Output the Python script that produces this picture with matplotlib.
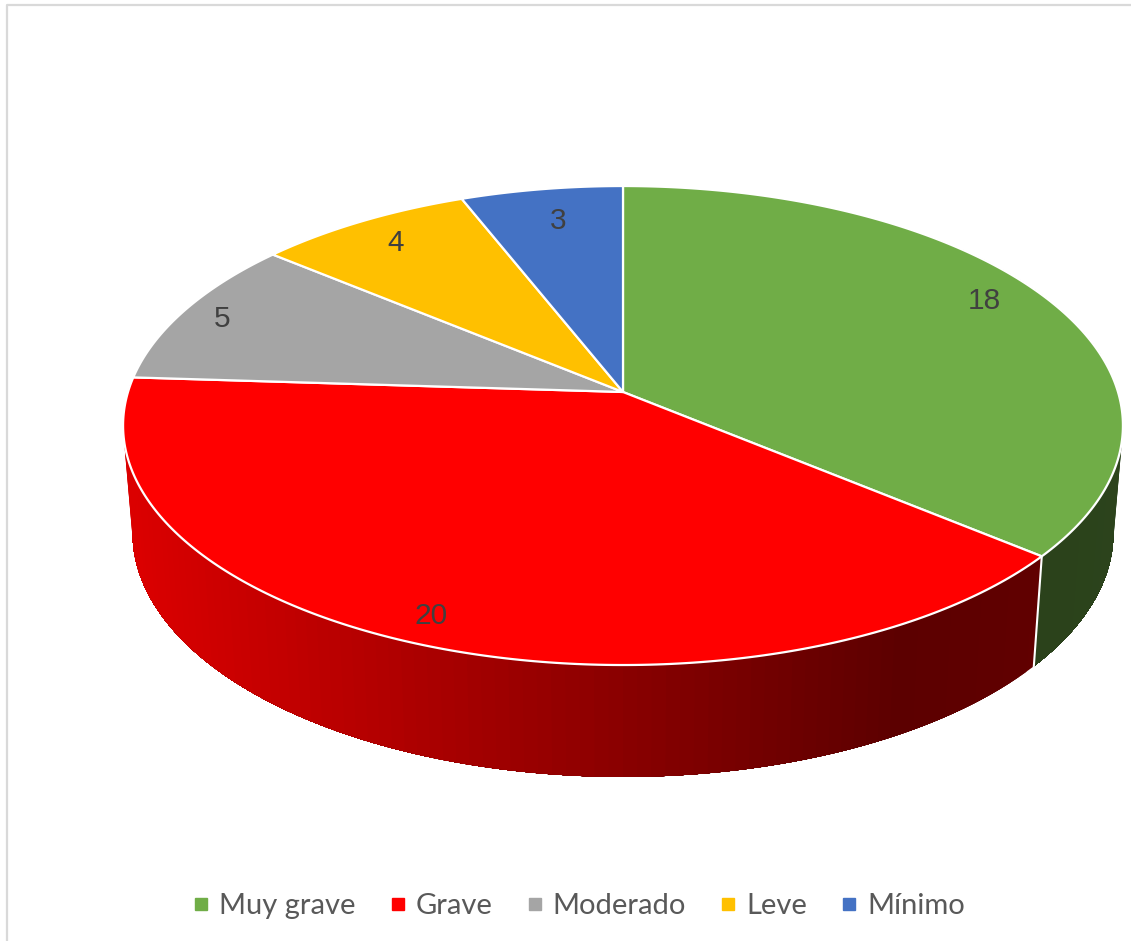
import numpy as np
import matplotlib
matplotlib.use("Agg")
import matplotlib.pyplot as plt
from matplotlib.lines import Line2D
from matplotlib.patches import Polygon

categories = ["Muy grave", "Grave", "Moderado", "Leve", "Mínimo"]
values = [18, 20, 5, 4, 3]
colors = ["#70AD47", "#FF0000", "#A5A5A5", "#FFC000", "#4472C4"]

W, H = 1131, 941
fig = plt.figure(figsize=(W / 100, H / 100), dpi=100, facecolor="white")
ax = fig.add_axes([0, 0, 1, 1])
ax.set_xlim(0, W)
ax.set_ylim(H, 0)
ax.axis("off")

# Perspective view of a disc
CX, CY, RX, RY, K = 623.0, 392.0, 495.0, 234.8, 0.14
DEPTH, SHRINK_X, STRETCH_Y = 107.0, 0.981, 1.018


def top(t):
    X, Y = np.sin(t), -np.cos(t)
    w = 1 - K * Y
    return CX + RX * X / w, CY + RY * Y / w


def bottom(t):
    x, y = top(t)
    return CX + SHRINK_X * (x - CX), CY + DEPTH + STRETCH_Y * (y - CY)


def shade(x):
    return np.interp(x, [130, 900, 1120], [0.86, 0.36, 0.39])


edges = 2 * np.pi * np.concatenate([[0], np.cumsum(values)]) / np.sum(values)

# Side wall, built from overlapping strips drawn in order so no seams show
for i, col in enumerate(colors):
    rgb = np.array(matplotlib.colors.to_rgb(col))
    n = max(int((edges[i + 1] - edges[i]) * 40), 2)
    ts = np.linspace(edges[i], edges[i + 1], n + 1)
    for j in range(n):
        a = ts[j]
        b = ts[j + 1]
        arc = np.linspace(a, edges[i + 1], 60)
        xt, yt = top(arc)
        xb, yb = bottom(arc)
        if max(yb) < 425:
            continue
        mid_x = top(np.array([(a + b) / 2]))[0][0]
        c = np.clip(rgb * shade(mid_x), 0, 1)
        ax.add_patch(Polygon(np.c_[np.r_[xt, xb[::-1]], np.r_[yt, yb[::-1]]],
                             closed=True, fc=c, ec="none", zorder=1 + i * 0.01 + j * 1e-5))

# Divider on the wall between the first two slices
xa, ya = top(edges[1])
xb, yb = bottom(edges[1])
ax.plot([xa, xb], [ya, yb], color="white", lw=1.5, zorder=2)

# Top face
for i, col in enumerate(colors):
    ts = np.linspace(edges[i], edges[i + 1], 200)
    xs, ys = top(ts)
    ax.add_patch(Polygon(np.c_[np.r_[CX, xs], np.r_[CY, ys]], closed=True,
                         fc=col, ec="white", lw=1.6, joinstyle="round", zorder=3))

# Value labels
label_xy = [(984, 301), (431, 616), (222, 319), (396, 243), (558, 221)]
for v, (x, y) in zip(values, label_xy):
    ax.text(x, y, str(v), family="Liberation Sans", fontsize=21.5,
            color="#404040", ha="center", va="center", zorder=4)

# Chart frame (top and left edges visible)
ax.plot([7, 7, W], [H, 5, 5], color="#D9D9D9", lw=1.6, zorder=0)

# Legend
handles = [Line2D([], [], ls="none", marker="s", ms=9.2, mfc=c, mec=c) for c in colors]
leg = ax.legend(handles, categories, loc="center", bbox_to_anchor=(576.5 / W, 1 - 906 / H),
                bbox_transform=fig.transFigure, ncol=5, frameon=False,
                prop={"family": "Lato", "size": 21}, labelcolor="#595959",
                handlelength=0.9, handletextpad=0.16, columnspacing=1.0)

fig.savefig("out.png", dpi=100, facecolor="white")
